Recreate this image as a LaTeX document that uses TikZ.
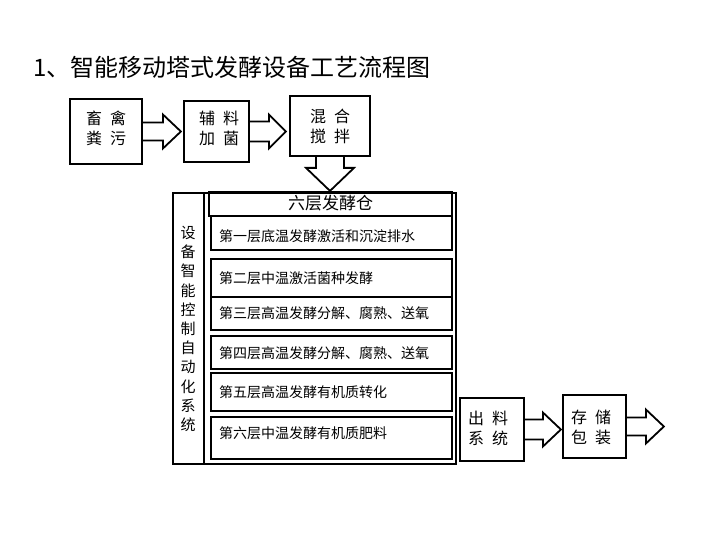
\documentclass[tikz,border=0pt]{standalone}
\usepackage{fontspec}
\setmainfont{Noto Sans CJK SC}
\usetikzlibrary{calc}
\tikzset{
  box/.style={draw, line width=1.8pt, inner sep=0pt},
  layerbox/.style={draw, line width=2.4pt, inner sep=0pt, minimum width=241pt},
  barrow/.style={draw, line width=1.8pt, line join=miter},
  boxtext/.style={font=\fontsize{16}{20}\selectfont, align=center, inner sep=0pt},
  ltext/.style={anchor=west, font=\fontsize{14}{17}\selectfont, inner sep=0pt},
}
\newcommand\myrarrow[5]{\draw[barrow] ($(#1)+(0,-#2)$) -- ++(#3,0) -- ++(0,{-(#4-#2)}) -- ($(#1)+(#3+#5,0)$) -- ($(#1)+(#3,#4)$) -- ++(0,{-(#4-#2)}) -- ($(#1)+(0,#2)$);}
\newcommand\mydarrow[5]{\draw[barrow] ($(#1)+(-#2,0)$) -- ++(0,#3) -- ++({-(#4-#2)},0) -- ($(#1)+(0,#3+#5)$) -- ($(#1)+(#4,#3)$) -- ++({-(#4-#2)},0) -- ($(#1)+(#2,0)$);}
\begin{document}
\begin{tikzpicture}[x=1pt,y=-1pt]
\useasboundingbox (0,0) rectangle (720,540);
\fill[white] (0,0) rectangle (720,540);
% title
\node[anchor=west, inner sep=0pt, font=\fontsize{24}{28}\selectfont] (title) at (33,67) {1、智能移动塔式发酵设备工艺流程图};
% top boxes
\node[box, minimum width=72pt, minimum height=65pt] (n1) at (106,131.5) {};
\node[boxtext] (n1t) at (106,128) {畜\hspace{0.5em}禽\\粪\hspace{0.5em}污};
\node[box, minimum width=65pt, minimum height=61pt] (n2) at (216.5,131.5) {};
\node[boxtext] (n2t) at (219,128) {辅\hspace{0.5em}料\\加\hspace{0.5em}菌};
\node[box, minimum width=80pt, minimum height=60pt] (n3) at (330,126) {};
\node[boxtext] (n3t) at (330,126) {混\hspace{0.5em}合\\搅\hspace{0.5em}拌};
\myrarrow{n1.east}{9}{20}{17}{18}
\myrarrow{n2.east}{10}{19}{17}{17}
\mydarrow{n3.south}{14}{11}{24}{23}
% main container
\node[box, minimum width=283pt, minimum height=271pt] (outer) at (314.5,328.5) {};
\coordinate (vtop) at (204,193);
\coordinate (vbot) at (204,464);
\draw[line width=2.4pt] (vtop) -- (vbot);
\node[font=\fontsize{15}{19.2}\selectfont, align=center, inner sep=0pt] (ctrl) at (188,329)
  {设\\备\\智\\能\\控\\制\\自\\动\\化\\系\\统};
\node[layerbox, minimum width=243pt, minimum height=24pt] (hdr) at (330.5,204) {};
\node[font=\fontsize{17}{20}\selectfont, inner sep=0pt] (hdrt) at (330.5,203) {六层发酵仓};
\node[layerbox, minimum height=34pt] (L1) at (331.5,233) {};
\node[layerbox, minimum height=38pt] (L2) at (331.5,278) {};
\node[layerbox, minimum height=33pt] (L3) at (331.5,313.5) {};
\node[layerbox, minimum height=33pt] (L4) at (331.5,352.5) {};
\node[layerbox, minimum height=38pt] (L5) at (331.5,392) {};
\node[layerbox, minimum height=42pt] (L6) at (331.5,438) {};
\node[ltext] (t1) at (219,236) {第一层底温发酵激活和沉淀排水};
\node[ltext] (t2) at (219,278) {第二层中温激活菌种发酵};
\node[ltext] (t3) at (219,313) {第三层高温发酵分解、腐熟、送氧};
\node[ltext] (t4) at (219,353) {第四层高温发酵分解、腐熟、送氧};
\node[ltext] (t5) at (219,392) {第五层高温发酵有机质转化};
\node[ltext] (t6) at (219,433) {第六层中温发酵有机质肥料};
% bottom right boxes
\node[box, minimum width=64pt, minimum height=63pt] (n7) at (492,429.5) {};
\node[boxtext] (n7t) at (488,428) {出\hspace{0.5em}料\\系\hspace{0.5em}统};
\node[box, minimum width=63pt, minimum height=63pt] (n8) at (594.5,426.5) {};
\node[boxtext] (n8t) at (591,427) {存\hspace{0.5em}储\\包\hspace{0.5em}装};
\myrarrow{n7.east}{10}{18}{17}{18}
\myrarrow{n8.east}{9}{19}{17}{18}
\end{tikzpicture}
\end{document}
